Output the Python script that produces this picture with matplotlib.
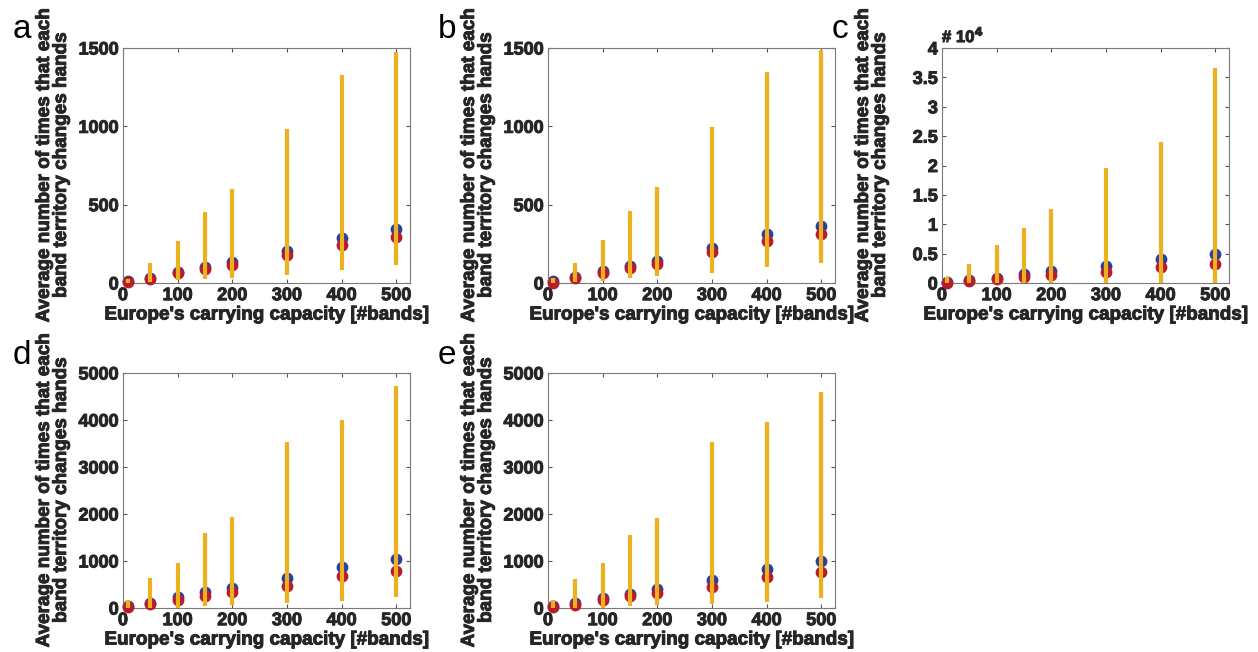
import matplotlib
matplotlib.use("Agg")
import matplotlib.pyplot as plt
import matplotlib.patheffects as pe
from matplotlib.ticker import FuncFormatter

capacity = [10, 50, 100, 150, 200, 300, 400, 500]

# panel a
a_blue = [11, 34, 70, 102, 137, 205, 288, 343]
a_red = [4, 26, 64, 92, 113, 181, 245, 294]
a_low = [0, 6, 17, 26, 34, 49, 85, 113]
a_high = [28, 130, 265, 452, 600, 981, 1329, 1476]

# panel b
b_blue = [15, 38, 75, 107, 139, 224, 314, 367]
b_red = [2, 34, 64, 98, 124, 196, 265, 314]
b_low = [0, 6, 13, 32, 43, 66, 102, 130]
b_high = [32, 130, 273, 459, 610, 996, 1350, 1489]

# panel c (raw counts, axis shown in units of 1e4)
c_blue = [170, 570, 900, 1600, 2050, 2900, 4150, 5000]
c_red = [50, 300, 750, 1100, 1300, 1900, 2670, 3300]
c_low = [0, 0, 0, 0, 0, 0, 0, 0]
c_high = [1000, 3300, 6550, 9300, 12600, 19600, 24000, 36600]

# panel d
d_blue = [36, 107, 228, 334, 434, 640, 882, 1045]
d_red = [14, 85, 178, 256, 334, 462, 690, 797]
d_low = [0, 0, 0, 36, 57, 107, 142, 228]
d_high = [164, 633, 967, 1600, 1942, 3542, 3997, 4730]

# panel e
e_blue = [43, 100, 206, 306, 412, 597, 839, 1003]
e_red = [21, 64, 178, 263, 320, 448, 661, 761]
e_low = [0, 0, 0, 36, 57, 92, 121, 213]
e_high = [164, 612, 960, 1543, 1920, 3528, 3947, 4595]

x_ticks = [0, 100, 200, 300, 400, 500]
xlabel = "Europe's carrying capacity [#bands]"
ylabel = "Average number of times that each\nband territory changes hands"

BLUE = "#2a3ea0"
RED = "#b81c2c"
YELLOW = "#EDB120"
TXT = "#262626"
FONT = "Liberation Sans"

plt.rcParams['font.family'] = [FONT, 'DejaVu Sans']
heavy = [pe.withStroke(linewidth=0.7, foreground=TXT)]

fig = plt.figure(figsize=(12.58, 6.52), dpi=100)

W = 287 / 1258
H = 235 / 652
panels = [
    ("a", 123, 48, a_blue, a_red, a_low, a_high, 1500, [0, 500, 1000, 1500], None),
    ("b", 548, 48, b_blue, b_red, b_low, b_high, 1500, [0, 500, 1000, 1500], None),
    ("c", 942, 48, c_blue, c_red, c_low, c_high, 40000,
     [0, 5000, 10000, 15000, 20000, 25000, 30000, 35000, 40000], 1e4),
    ("d", 123, 373, d_blue, d_red, d_low, d_high, 5000, [0, 1000, 2000, 3000, 4000, 5000], None),
    ("e", 548, 373, e_blue, e_red, e_low, e_high, 5000, [0, 1000, 2000, 3000, 4000, 5000], None),
]

for (lab, lx, ty, blue, red, low, high, ymax, yt, scale) in panels:
    ax = fig.add_axes([lx / 1258, 1 - (ty + 235) / 652, W, H])
    ax.plot(capacity, blue, 'o', color=BLUE, ms=8.5, mec='none', zorder=2, clip_on=False)
    ax.plot(capacity, red, 'o', color=RED, ms=8.5, mec='none', zorder=3, clip_on=False)
    ax.vlines(capacity, low, high, color=YELLOW, lw=3.0, zorder=4)
    ax.set_xlim(0, 525)
    ax.set_ylim(0, ymax)
    ax.set_xticks(x_ticks)
    ax.set_yticks(yt)
    if scale:
        ax.yaxis.set_major_formatter(FuncFormatter(lambda v, p, s=scale: f"{v/s:g}"))
        ax.text(0.0, 1.012, "# 10$^{\\mathbf{4}}$", transform=ax.transAxes, ha='left', va='bottom',
                fontsize=12, fontweight='bold', color=TXT, path_effects=heavy)
    ax.tick_params(direction='in', top=True, right=True, length=3, width=0.8, color="#555555",
                   labelsize=13, labelcolor=TXT, pad=3)
    for t in ax.get_xticklabels() + ax.get_yticklabels():
        t.set_fontweight('bold')
        t.set_path_effects(heavy)
    for s in ax.spines.values():
        s.set_color("#7a7a7a")
        s.set_linewidth(0.8)
    ax.set_xlabel(xlabel, fontsize=13.6, fontweight='bold', color=TXT, labelpad=0,
                  path_effects=heavy)
    ax.set_ylabel(ylabel, fontsize=13.6, fontweight='bold', color=TXT, linespacing=1.0,
                  path_effects=heavy)
    ax.yaxis.set_label_coords(-0.185, 0.5)
    ax.xaxis.set_label_coords(0.5, -0.1)
    fig.text((lx - 110) / 1258, 1 - (ty - 18) / 652, lab, fontsize=24, color='black',
             ha='left', va='center', family='Liberation Sans')

fig.savefig("out.png", dpi=100)
